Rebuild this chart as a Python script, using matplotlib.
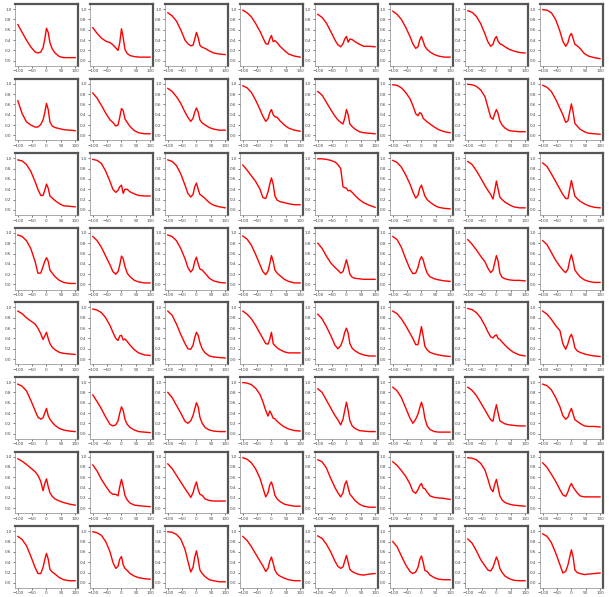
import matplotlib
matplotlib.use('Agg')
import matplotlib.pyplot as plt

# sample positions shared by every panel
X = [-100, -85, -70, -55, -40, -30, -20, -12, -6, 0, 6, 12, 20, 30, 45, 60, 80, 100]

ROW_0 = [
	[0.70, 0.55, 0.40, 0.27, 0.17, 0.15, 0.17, 0.25, 0.42, 0.63, 0.55, 0.35, 0.23, 0.15, 0.08, 0.06, 0.06, 0.06],
	[0.64, 0.53, 0.44, 0.38, 0.35, 0.31, 0.25, 0.20, 0.35, 0.62, 0.45, 0.22, 0.14, 0.10, 0.08, 0.07, 0.07, 0.07],
	[0.93, 0.87, 0.77, 0.60, 0.40, 0.33, 0.29, 0.30, 0.42, 0.55, 0.45, 0.30, 0.26, 0.24, 0.19, 0.15, 0.13, 0.12],
	[0.98, 0.93, 0.85, 0.72, 0.57, 0.45, 0.33, 0.32, 0.42, 0.49, 0.37, 0.39, 0.35, 0.28, 0.20, 0.13, 0.09, 0.07],
	[0.90, 0.84, 0.73, 0.57, 0.40, 0.31, 0.27, 0.33, 0.42, 0.47, 0.36, 0.42, 0.41, 0.37, 0.32, 0.28, 0.28, 0.27],
	[0.96, 0.90, 0.80, 0.65, 0.47, 0.33, 0.24, 0.27, 0.40, 0.47, 0.38, 0.28, 0.22, 0.17, 0.12, 0.09, 0.07, 0.07],
	[0.97, 0.94, 0.86, 0.72, 0.52, 0.37, 0.28, 0.32, 0.42, 0.47, 0.38, 0.33, 0.31, 0.27, 0.22, 0.19, 0.16, 0.15],
	[0.99, 0.98, 0.93, 0.80, 0.57, 0.38, 0.28, 0.35, 0.48, 0.53, 0.43, 0.32, 0.29, 0.24, 0.14, 0.09, 0.06, 0.04],
]
ROW_1 = [
	[0.67, 0.42, 0.26, 0.20, 0.16, 0.16, 0.21, 0.30, 0.44, 0.62, 0.50, 0.26, 0.18, 0.15, 0.13, 0.11, 0.10, 0.09],
	[0.82, 0.72, 0.58, 0.43, 0.30, 0.25, 0.18, 0.20, 0.35, 0.52, 0.48, 0.32, 0.25, 0.17, 0.09, 0.05, 0.03, 0.03],
	[0.91, 0.85, 0.75, 0.62, 0.45, 0.35, 0.27, 0.33, 0.45, 0.53, 0.45, 0.30, 0.24, 0.20, 0.15, 0.12, 0.10, 0.10],
	[0.96, 0.92, 0.83, 0.68, 0.50, 0.37, 0.27, 0.32, 0.44, 0.50, 0.40, 0.36, 0.35, 0.28, 0.20, 0.14, 0.10, 0.08],
	[0.85, 0.78, 0.64, 0.50, 0.37, 0.30, 0.25, 0.22, 0.33, 0.50, 0.40, 0.22, 0.17, 0.12, 0.07, 0.05, 0.04, 0.03],
	[0.98, 0.97, 0.92, 0.83, 0.71, 0.58, 0.42, 0.38, 0.44, 0.42, 0.33, 0.30, 0.26, 0.22, 0.16, 0.11, 0.07, 0.05],
	[0.99, 0.98, 0.95, 0.88, 0.75, 0.55, 0.35, 0.31, 0.42, 0.50, 0.42, 0.28, 0.20, 0.14, 0.09, 0.08, 0.07, 0.07],
	[0.97, 0.93, 0.85, 0.70, 0.52, 0.40, 0.25, 0.28, 0.45, 0.61, 0.45, 0.23, 0.18, 0.12, 0.07, 0.04, 0.03, 0.02],
]
ROW_2 = [
	[0.97, 0.95, 0.88, 0.75, 0.55, 0.40, 0.28, 0.28, 0.38, 0.50, 0.42, 0.27, 0.23, 0.18, 0.12, 0.08, 0.07, 0.06],
	[0.98, 0.96, 0.90, 0.75, 0.55, 0.40, 0.34, 0.38, 0.45, 0.48, 0.32, 0.40, 0.40, 0.35, 0.31, 0.28, 0.27, 0.27],
	[0.97, 0.94, 0.86, 0.70, 0.48, 0.32, 0.25, 0.30, 0.45, 0.52, 0.40, 0.30, 0.27, 0.22, 0.14, 0.09, 0.06, 0.04],
	[0.87, 0.77, 0.66, 0.55, 0.40, 0.24, 0.22, 0.35, 0.50, 0.62, 0.50, 0.27, 0.19, 0.16, 0.14, 0.12, 0.10, 0.10],
	[0.99, 0.99, 0.98, 0.96, 0.93, 0.88, 0.80, 0.45, 0.43, 0.42, 0.37, 0.38, 0.34, 0.28, 0.20, 0.14, 0.09, 0.05],
	[0.96, 0.92, 0.83, 0.68, 0.50, 0.35, 0.23, 0.28, 0.42, 0.48, 0.38, 0.27, 0.20, 0.15, 0.09, 0.05, 0.03, 0.02],
	[0.94, 0.88, 0.76, 0.62, 0.47, 0.38, 0.30, 0.21, 0.38, 0.56, 0.40, 0.25, 0.20, 0.15, 0.10, 0.06, 0.04, 0.04],
	[0.91, 0.84, 0.70, 0.55, 0.40, 0.30, 0.22, 0.22, 0.40, 0.57, 0.42, 0.27, 0.22, 0.17, 0.12, 0.08, 0.05, 0.04],
]
ROW_3 = [
	[0.96, 0.93, 0.85, 0.70, 0.45, 0.22, 0.22, 0.35, 0.45, 0.52, 0.45, 0.28, 0.22, 0.15, 0.08, 0.04, 0.02, 0.02],
	[0.93, 0.85, 0.72, 0.55, 0.38, 0.25, 0.20, 0.25, 0.38, 0.55, 0.50, 0.35, 0.22, 0.15, 0.08, 0.05, 0.03, 0.03],
	[0.96, 0.93, 0.85, 0.70, 0.50, 0.33, 0.24, 0.30, 0.45, 0.53, 0.40, 0.30, 0.28, 0.22, 0.12, 0.07, 0.04, 0.03],
	[0.94, 0.88, 0.76, 0.58, 0.38, 0.25, 0.19, 0.26, 0.40, 0.56, 0.45, 0.28, 0.22, 0.17, 0.10, 0.06, 0.03, 0.03],
	[0.80, 0.70, 0.55, 0.42, 0.33, 0.28, 0.22, 0.25, 0.36, 0.48, 0.35, 0.20, 0.14, 0.12, 0.11, 0.10, 0.10, 0.10],
	[0.93, 0.87, 0.72, 0.50, 0.30, 0.21, 0.22, 0.33, 0.47, 0.54, 0.48, 0.35, 0.22, 0.15, 0.11, 0.09, 0.07, 0.06],
	[0.87, 0.78, 0.67, 0.55, 0.44, 0.32, 0.23, 0.28, 0.42, 0.56, 0.45, 0.22, 0.14, 0.11, 0.09, 0.08, 0.08, 0.07],
	[0.85, 0.77, 0.62, 0.47, 0.35, 0.28, 0.23, 0.30, 0.47, 0.58, 0.45, 0.28, 0.22, 0.15, 0.09, 0.06, 0.04, 0.04],
]
ROW_4 = [
	[0.93, 0.88, 0.80, 0.74, 0.68, 0.60, 0.49, 0.38, 0.45, 0.52, 0.40, 0.30, 0.23, 0.18, 0.13, 0.11, 0.10, 0.09],
	[0.97, 0.95, 0.90, 0.80, 0.65, 0.52, 0.40, 0.36, 0.45, 0.46, 0.37, 0.39, 0.34, 0.27, 0.18, 0.12, 0.08, 0.07],
	[0.93, 0.85, 0.68, 0.48, 0.30, 0.20, 0.19, 0.27, 0.42, 0.52, 0.46, 0.32, 0.20, 0.12, 0.06, 0.04, 0.03, 0.02],
	[0.93, 0.87, 0.78, 0.65, 0.50, 0.40, 0.30, 0.29, 0.38, 0.52, 0.30, 0.26, 0.22, 0.18, 0.14, 0.12, 0.12, 0.12],
	[0.87, 0.78, 0.63, 0.46, 0.27, 0.20, 0.26, 0.38, 0.52, 0.60, 0.50, 0.30, 0.21, 0.16, 0.11, 0.08, 0.06, 0.06],
	[0.93, 0.88, 0.78, 0.65, 0.50, 0.40, 0.28, 0.28, 0.45, 0.63, 0.45, 0.25, 0.18, 0.13, 0.10, 0.08, 0.06, 0.05],
	[0.98, 0.96, 0.90, 0.80, 0.65, 0.53, 0.43, 0.41, 0.45, 0.47, 0.40, 0.38, 0.33, 0.27, 0.19, 0.13, 0.08, 0.06],
	[0.93, 0.87, 0.77, 0.65, 0.55, 0.30, 0.19, 0.30, 0.42, 0.48, 0.38, 0.22, 0.16, 0.13, 0.10, 0.08, 0.06, 0.05],
]
ROW_5 = [
	[0.96, 0.92, 0.83, 0.65, 0.45, 0.32, 0.28, 0.31, 0.40, 0.49, 0.35, 0.28, 0.22, 0.16, 0.10, 0.07, 0.05, 0.04],
	[0.75, 0.62, 0.48, 0.32, 0.18, 0.15, 0.17, 0.25, 0.40, 0.52, 0.45, 0.28, 0.18, 0.12, 0.07, 0.04, 0.03, 0.02],
	[0.80, 0.70, 0.55, 0.40, 0.24, 0.20, 0.25, 0.35, 0.48, 0.60, 0.52, 0.32, 0.20, 0.12, 0.07, 0.05, 0.04, 0.04],
	[0.99, 0.98, 0.95, 0.88, 0.76, 0.62, 0.45, 0.34, 0.44, 0.38, 0.30, 0.29, 0.24, 0.19, 0.13, 0.09, 0.06, 0.05],
	[0.87, 0.80, 0.65, 0.50, 0.35, 0.27, 0.17, 0.28, 0.45, 0.61, 0.45, 0.25, 0.15, 0.10, 0.06, 0.05, 0.04, 0.04],
	[0.90, 0.83, 0.70, 0.50, 0.30, 0.20, 0.28, 0.38, 0.50, 0.61, 0.50, 0.30, 0.15, 0.08, 0.04, 0.03, 0.03, 0.03],
	[0.90, 0.84, 0.74, 0.60, 0.46, 0.36, 0.27, 0.24, 0.42, 0.56, 0.40, 0.25, 0.22, 0.19, 0.17, 0.16, 0.15, 0.15],
	[0.96, 0.93, 0.85, 0.70, 0.52, 0.35, 0.28, 0.32, 0.42, 0.49, 0.38, 0.27, 0.24, 0.20, 0.15, 0.14, 0.14, 0.13],
]
ROW_6 = [
	[0.96, 0.91, 0.85, 0.78, 0.71, 0.64, 0.52, 0.34, 0.48, 0.57, 0.42, 0.30, 0.23, 0.18, 0.14, 0.11, 0.08, 0.06],
	[0.84, 0.72, 0.56, 0.43, 0.31, 0.27, 0.27, 0.24, 0.42, 0.56, 0.42, 0.25, 0.16, 0.10, 0.06, 0.05, 0.04, 0.03],
	[0.86, 0.77, 0.64, 0.51, 0.38, 0.30, 0.21, 0.30, 0.42, 0.51, 0.36, 0.27, 0.25, 0.18, 0.15, 0.14, 0.14, 0.14],
	[0.98, 0.95, 0.88, 0.76, 0.58, 0.40, 0.22, 0.30, 0.45, 0.51, 0.40, 0.25, 0.18, 0.13, 0.08, 0.06, 0.04, 0.04],
	[0.94, 0.90, 0.78, 0.58, 0.40, 0.30, 0.22, 0.30, 0.46, 0.53, 0.40, 0.27, 0.22, 0.15, 0.08, 0.04, 0.02, 0.02],
	[0.90, 0.83, 0.73, 0.62, 0.47, 0.33, 0.29, 0.36, 0.44, 0.48, 0.39, 0.38, 0.31, 0.24, 0.21, 0.20, 0.19, 0.17],
	[0.98, 0.97, 0.94, 0.87, 0.74, 0.57, 0.38, 0.32, 0.46, 0.56, 0.40, 0.24, 0.16, 0.11, 0.08, 0.06, 0.05, 0.04],
	[0.88, 0.79, 0.66, 0.52, 0.36, 0.26, 0.23, 0.32, 0.42, 0.48, 0.41, 0.36, 0.30, 0.24, 0.22, 0.22, 0.22, 0.22],
]
ROW_7 = [
	[0.90, 0.84, 0.72, 0.52, 0.30, 0.18, 0.18, 0.30, 0.45, 0.57, 0.46, 0.26, 0.21, 0.17, 0.10, 0.06, 0.04, 0.04],
	[0.99, 0.97, 0.92, 0.80, 0.60, 0.40, 0.28, 0.32, 0.46, 0.51, 0.35, 0.28, 0.24, 0.18, 0.13, 0.10, 0.08, 0.07],
	[0.99, 0.98, 0.94, 0.85, 0.65, 0.42, 0.21, 0.30, 0.50, 0.62, 0.45, 0.25, 0.18, 0.12, 0.06, 0.04, 0.02, 0.02],
	[0.90, 0.82, 0.70, 0.56, 0.42, 0.33, 0.22, 0.28, 0.42, 0.50, 0.38, 0.25, 0.17, 0.13, 0.09, 0.06, 0.04, 0.04],
	[0.91, 0.86, 0.75, 0.60, 0.42, 0.32, 0.28, 0.31, 0.42, 0.53, 0.40, 0.26, 0.22, 0.19, 0.16, 0.15, 0.17, 0.18],
	[0.80, 0.70, 0.52, 0.35, 0.22, 0.18, 0.21, 0.30, 0.45, 0.52, 0.40, 0.24, 0.22, 0.15, 0.10, 0.07, 0.06, 0.06],
	[0.85, 0.77, 0.62, 0.45, 0.33, 0.25, 0.23, 0.30, 0.40, 0.50, 0.42, 0.28, 0.20, 0.13, 0.08, 0.05, 0.04, 0.04],
	[0.95, 0.90, 0.78, 0.58, 0.35, 0.19, 0.22, 0.35, 0.50, 0.64, 0.50, 0.25, 0.20, 0.18, 0.16, 0.17, 0.18, 0.19],
]

ROWS = [ROW_0, ROW_1, ROW_2, ROW_3, ROW_4, ROW_5, ROW_6, ROW_7]
XTICKS = [-100, -50, 0, 50, 100]
YTICKS = [0.0, 0.2, 0.4, 0.6, 0.8, 1.0]

fig, axes = plt.subplots(8, 8, figsize=(6.09, 5.97), dpi=100)
fig.subplots_adjust(left=0.0246, right=0.990, top=0.9933, bottom=0.0151,
                    wspace=0.19, hspace=0.205)

for i, row in enumerate(ROWS):
	for j, curve in enumerate(row):
		ax = axes[i][j]
		ax.plot(X, curve, color='red', linewidth=1.0)
		ax.set_ylim(-0.1, 1.1)
		ax.set_xticks(XTICKS)
		ax.set_yticks(YTICKS)
		ax.tick_params(labelsize=3, length=1.5, width=0.5, pad=1, colors='#444444')
		for side in ('left', 'bottom'):
			ax.spines[side].set_linewidth(0.5)
			ax.spines[side].set_color('#888888')
		for side in ('top', 'right'):
			ax.spines[side].set_linewidth(1.6)
			ax.spines[side].set_color('#555555')

fig.savefig('out.png', dpi=100)
